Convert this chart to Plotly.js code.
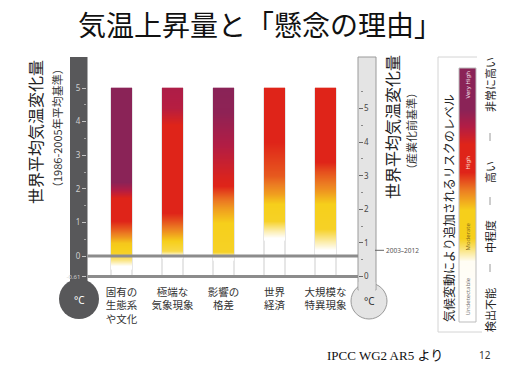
<!DOCTYPE html>
<html>
<head>
<meta charset="utf-8">
<script src="https://cdn.plot.ly/plotly-3.0.1.min.js"></script>
<style>html,body{margin:0;padding:0;background:#fff;}#chart{width:520px;height:367px;}</style>
</head>
<body>
<div id="chart"></div>
<script>
// ---------- data ----------
const categories = ['固有の<br>生態系<br>や文化', '極端な<br>気象現象', '影響の<br>格差', '世界<br>経済', '大規模な<br>特異現象'];

// temperature stops (°C, 1986-2005 baseline) and risk level at each stop
// risk: 0 = undetectable, 1 = moderate, 2 = high, 3 = very high
const temps1 = [-0.3, -0.1, 0.1, 0.4, 0.6, 0.8, 1.05, 1.75, 2.2, 4.98, 5.0];
const risk1  = [0, 0.55, 0.95, 1.05, 1.4, 1.7, 2, 2, 3, 3, 3];
const temps2 = [0.0, 0.15, 0.45, 0.75, 1.05, 1.3, 3.9, 4.4, 4.98, 5.0];
const risk2  = [0, 0.8, 1.0, 1.4, 1.75, 2, 2, 2.45, 2.55, 2.55];
const temps3 = [-0.05, 0.12, 1.0, 1.4, 1.75, 2.1, 2.3, 3.3, 4.3, 4.98, 5.0];
const risk3  = [0, 0.95, 1.0, 1.3, 1.6, 2, 2.05, 2.5, 2.95, 3, 3];
const temps4 = [0.55, 0.75, 1.05, 1.55, 1.85, 2.4, 3.4, 4.98, 5.0];
const risk4  = [0, 0.35, 0.95, 1.0, 1.3, 1.7, 2.0, 2.0, 2.0];
const temps5 = [0.2, 0.5, 0.8, 1.55, 2.0, 2.5, 2.8, 4.98, 5.0];
const risk5  = [0, 0.45, 0.95, 1.0, 1.4, 1.75, 2.0, 2.0, 2.0];

const leftTickVals  = [5, 4, 3, 2, 1, 0, -0.61];
const leftTickText  = ['5', '4', '3', '2', '1', '0', '-0.61'];
const leftMinorVals = [4.5, 3.5, 2.5, 1.5, 0.5];
const rightTickVals = [0, 1, 2, 3, 4, 5];
const rightMinorVals = [0.5, 1.5, 2.5, 3.5, 4.5, 5.5];
const baselineOffset = 0.61;      // pre-industrial vs 1986-2005
const recentPeriodTemp = 0.78;    // 2003–2012 on pre-industrial scale
const recentPeriodLabel = '2003–2012';

// legend colour bar stops (0 = bottom, 1 = top) and risk levels
const legendLevels = [0, 0.24, 0.3, 0.33, 0.44, 0.52, 0.59, 0.7, 0.77, 0.84, 1];
const legendRisk   = [0, 0.05, 0.7, 1, 1, 1.5, 2, 2, 2.5, 3, 3];
const legendInner  = ['Very High', 'High', 'Moderate', 'Undetectable'];
const legendLabels = ['非常に高い', '高い', '中程度', '検出不能'];

// ---------- helpers ----------
const W = 520, H = 367;
const P = px => px / W;
const Q = py => 1 - py / H;
const colorscale = [
  [0, '#ffffff'], [1/3, '#f6cf1b'], [0.5, '#ec7e22'],
  [2/3, '#df2419'], [0.8333, '#b21d45'], [1, '#8a2357']
];
const halfW = 10.5 / 51;

const barTemps = [temps1, temps2, temps3, temps4, temps5];
const barRisk  = [risk1, risk2, risk3, risk4, risk5];

const traces = [];
barTemps.forEach((t, i) => {
  traces.push({
    type: 'heatmap', xaxis: 'x', yaxis: 'y',
    x: [i - halfW / 2, i + halfW / 2], y: t,
    z: barRisk[i].map(r => [r, r]),
    zmin: 0, zmax: 3, colorscale: colorscale, zsmooth: 'best',
    showscale: false, hoverinfo: 'skip'
  });
});
traces.push({
  type: 'heatmap', xaxis: 'x2', yaxis: 'y3',
  x: [0.25, 0.75], y: legendLevels,
  z: legendRisk.map(r => [r, r]),
  zmin: 0, zmax: 3, colorscale: colorscale, zsmooth: 'best',
  showscale: false, hoverinfo: 'skip'
});

const shapes = [];
// bar edge guide lines
categories.forEach((c, i) => {
  [i - halfW, i + halfW].forEach(xv => shapes.push({
    type: 'line', xref: 'x', yref: 'y', x0: xv, x1: xv, y0: -baselineOffset, y1: 5,
    line: {color: '#cdcdcd', width: 1}, layer: 'below'
  }));
});
// left thermometer
shapes.push({type: 'rect', xref: 'paper', yref: 'paper', x0: P(70), x1: P(87.5), y0: Q(290), y1: Q(57),
  fillcolor: '#58585a', line: {width: 0}, layer: 'below'});
shapes.push({type: 'circle', xref: 'paper', yref: 'paper', x0: P(59), x1: P(99), y0: Q(319), y1: Q(279),
  fillcolor: '#58585a', line: {width: 0}, layer: 'below'});
// right thermometer
shapes.push({type: 'circle', xref: 'paper', yref: 'paper', x0: P(351), x1: P(387), y0: Q(319), y1: Q(283),
  fillcolor: '#e4e4e4', line: {color: '#9a9a9a', width: 1}, layer: 'below'});
shapes.push({type: 'rect', xref: 'paper', yref: 'paper', x0: P(358), x1: P(376), y0: Q(290), y1: Q(57),
  fillcolor: '#e4e4e4', line: {color: '#9a9a9a', width: 1}, layer: 'below'});
shapes.push({type: 'rect', xref: 'paper', yref: 'paper', x0: P(358.7), x1: P(375.3), y0: Q(293), y1: Q(282),
  fillcolor: '#e4e4e4', line: {width: 0}, layer: 'below'});
// baseline lines
[0, -baselineOffset].forEach(v => shapes.push({
  type: 'line', xref: 'paper', yref: 'y', x0: P(87.5), x1: P(358), y0: v, y1: v,
  line: {color: '#8c8c8c', width: 3}
}));
// 2003-2012 marker
shapes.push({type: 'line', xref: 'paper', yref: 'y2', x0: P(375), x1: P(384), y0: recentPeriodTemp, y1: recentPeriodTemp,
  line: {color: '#666', width: 1}});
// legend box (open on right)
shapes.push({type: 'path', xref: 'paper', yref: 'paper',
  path: `M ${P(477)} ${Q(57)} L ${P(438)} ${Q(57)} L ${P(438)} ${Q(332)} L ${P(482)} ${Q(332)}`,
  line: {color: '#d4d4d4', width: 1}});
shapes.push({type: 'rect', xref: 'paper', yref: 'paper', x0: P(459), x1: P(476), y0: Q(322), y1: Q(68),
  line: {color: '#bdbdbd', width: 1}});
// dashes between legend labels
[137, 201, 268].forEach(py => shapes.push({
  type: 'line', xref: 'paper', yref: 'paper', x0: P(490), x1: P(490), y0: Q(py - 4), y1: Q(py + 4),
  line: {color: '#9a9a9a', width: 1}
}));

const jp = 'Noto Sans CJK JP';
const ann = (text, px, py, opts) => Object.assign({
  text: text, xref: 'paper', yref: 'paper', x: P(px), y: Q(py), showarrow: false,
  xanchor: 'center', yanchor: 'middle', font: {family: jp, size: 12, color: '#222'}
}, opts || {});

const annotations = [
  ann('気温上昇量と「懸念の理由」', 260, 24, {font: {family: jp, size: 28, color: '#111'}}),
  ann('世界平均気温変化量', 35, 132, {textangle: -90, font: {family: jp, size: 16, color: '#222'}}),
  ann('（1986-2005年平均基準）', 57, 128, {textangle: -90, font: {family: jp, size: 11, color: '#333'}}),
  ann('世界平均気温変化量', 392, 127, {textangle: -90, font: {family: jp, size: 16, color: '#222'}}),
  ann('（産業化前基準）', 411, 131, {textangle: -90, font: {family: jp, size: 11, color: '#333'}}),
  ann('°C', 79, 300, {font: {family: 'Noto Sans', size: 10, color: '#ffffff'}}),
  ann('°C', 369, 301, {font: {family: 'Noto Sans', size: 10, color: '#333'}}),
  ann(recentPeriodLabel, 384, 0, {xanchor: 'left', yref: 'y2', y: recentPeriodTemp,
    font: {family: 'Noto Sans', size: 6.5, color: '#555'}}),
  ann('気候変動により追加されるリスクのレベル', 448, 208, {textangle: -90, font: {family: jp, size: 12, color: '#222'}}),
  ann('IPCC WG2 AR5 より', 385, 355, {font: {family: 'Liberation Serif, ' + jp, size: 13, color: '#111'}}),
  ann('12', 485, 355, {font: {family: 'Noto Sans', size: 10, color: '#333'}})
];
const innerPos = [85, 163, 237, 297];
const innerCol = ['#f4e6ee', '#fde3dc', '#8a6d1a', '#777777'];
legendInner.forEach((t, k) => annotations.push(
  ann(t, 467.5, innerPos[k], {textangle: -90, font: {family: 'Noto Sans', size: 6, color: innerCol[k]}})));
const labelPos = [85, 172, 237, 310];
legendLabels.forEach((t, k) => annotations.push(
  ann(t, 490, labelPos[k], {textangle: -90, font: {family: jp, size: 11, color: '#222'}})));

const layout = {
  width: W, height: H, margin: {l: 0, r: 0, t: 0, b: 0},
  paper_bgcolor: '#ffffff', plot_bgcolor: 'rgba(0,0,0,0)', showlegend: false,
  font: {family: jp},
  xaxis: {domain: [87 / W, 363 / W], range: [-0.6765, 4.7353], anchor: 'y',
    tickvals: [0, 1, 2, 3, 4], ticktext: categories, ticks: '', ticklabelstandoff: 4,
    showgrid: false, zeroline: false, showline: false,
    tickfont: {family: jp, size: 10.5, color: '#333'}},
  yaxis: {domain: [1 - 280 / H, 1 - 50 / H], range: [-0.714, 6.131], anchor: 'x',
    tickvals: leftTickVals,
    ticktext: leftTickText.map(t => t.length > 2 ? '<span style="font-size:6px">' + t + '</span>' : t),
    ticks: 'outside', ticklen: 4,
    tickcolor: '#c4c4c4', tickwidth: 1, showgrid: false, zeroline: false, showline: false,
    tickfont: {family: 'Noto Sans', size: 8, color: '#d0d0d0'},
    minor: {tickvals: leftMinorVals, ticks: 'outside', ticklen: 2, tickcolor: '#a8a8a8'}},
  yaxis2: {overlaying: 'y', side: 'right', anchor: 'x',
    range: [-0.714 + baselineOffset, 6.131 + baselineOffset],
    tickvals: rightTickVals, ticks: 'inside', ticklen: 4, tickcolor: '#666',
    showgrid: false, zeroline: false, showline: false,
    tickfont: {family: 'Noto Sans', size: 8, color: '#444'},
    minor: {tickvals: rightMinorVals, ticks: 'inside', ticklen: 2, tickcolor: '#888'}},
  xaxis2: {domain: [459 / W, 476 / W], range: [0, 1], visible: false, anchor: 'y3'},
  yaxis3: {domain: [1 - 322 / H, 1 - 68 / H], range: [0, 1], visible: false, anchor: 'x2'},
  shapes: shapes, annotations: annotations
};

Plotly.newPlot('chart', traces, layout, {staticPlot: true, displayModeBar: false});
</script>
</body>
</html>
